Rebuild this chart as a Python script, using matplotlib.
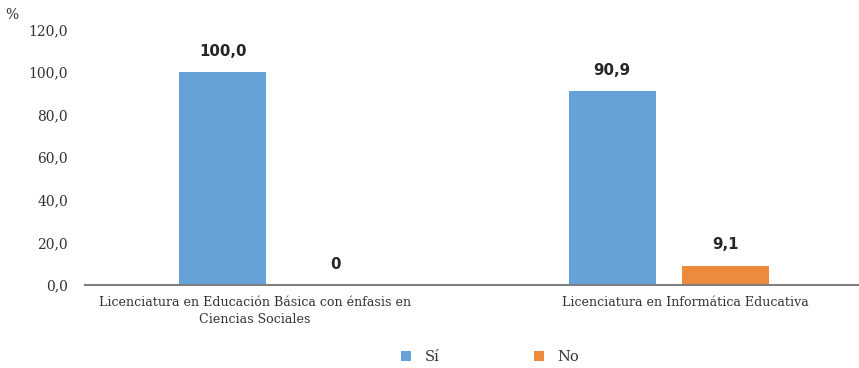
import matplotlib
matplotlib.use("Agg")
import matplotlib.pyplot as plt
import numpy as np

categories = ["Licenciatura en Educación Básica con énfasis en\nCiencias Sociales",
              "Licenciatura en Informática Educativa"]
series_names = ["Sí", "No"]
si_values = [100.0, 90.9]
no_values = [0.0, 9.1]
value_labels_si = ["100,0", "90,9"]
value_labels_no = ["0", "9,1"]
y_ticks = [0, 20, 40, 60, 80, 100, 120]
y_tick_labels = ["0,0", "20,0", "40,0", "60,0", "80,0", "100,0", "120,0"]

blue = "#64A2D8"
orange = "#EE8A3C"
text_col = "#333333"
serif = ["DejaVu Serif"]
sans = ["DejaVu Sans"]

fig = plt.figure(figsize=(8.59, 3.68), dpi=100)
ax = fig.add_axes([84.5 / 859, 1 - 285 / 368, 779 / 859, (285 - 29.4) / 368])

x = np.arange(len(categories))
w = 0.224
off = 0.145
b1 = ax.bar(x - off, si_values, w, color=blue, label=series_names[0], zorder=2)
b2 = ax.bar(x + off, no_values, w, color=orange, label=series_names[1], zorder=2)

for bars, labels in ((b1, value_labels_si), (b2, value_labels_no)):
    for rect, lab in zip(bars, labels):
        ax.annotate(lab, (rect.get_x() + rect.get_width() / 2, rect.get_height()),
                    xytext=(0, 15), textcoords="offset points", ha="center", va="center",
                    fontsize=10.8, fontweight="bold", family=sans, color="#262626")

ax.set_xlim(-0.5, 1.5)
ax.set_ylim(0, 120)
ax.set_yticks(y_ticks)
ax.set_yticklabels(y_tick_labels, family=serif, fontsize=10, color=text_col)
# category labels sit slightly off the group centres
label_shift = np.array([-0.062, 0.042])
ax.set_xticks(x + label_shift)
ax.set_xticklabels(categories, family=serif, fontsize=9.1, color=text_col, linespacing=1.35)
ax.tick_params(axis="both", length=0)
ax.tick_params(axis="y", pad=12)
ax.tick_params(axis="x", pad=8)

for s in ("top", "right", "left"):
    ax.spines[s].set_visible(False)
ax.spines["bottom"].set_color("#7f7f7f")
ax.spines["bottom"].set_linewidth(1.5)

fig.text(5 / 859, 1 - 15 / 368, "%", family=serif, fontsize=10, color=text_col, va="center")

fig.legend(handles=[b1, b2], labels=series_names, loc="center",
           bbox_to_anchor=(490 / 859, 1 - 357 / 368), ncol=2, frameon=False,
           prop={"family": serif, "size": 10.5}, handlelength=0.7, handleheight=0.7,
           columnspacing=6.5, handletextpad=0.9, labelcolor=text_col)

fig.savefig("out.png", dpi=100)
